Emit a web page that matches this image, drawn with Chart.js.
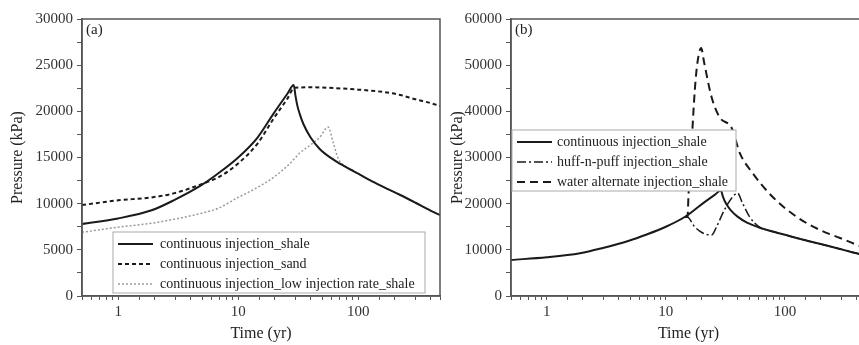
<!DOCTYPE html>
<html>
<head>
<meta charset="utf-8">
<script src="https://cdn.jsdelivr.net/npm/chart.js@4/dist/chart.umd.min.js"></script>
<style>
  html, body { margin: 0; padding: 0; background: #fff; overflow: hidden; width: 859px; height: 345px; }
  canvas { position: absolute; top: 0; }
  #chartA { left: 0; }
  #chartB { left: 440px; }
</style>
</head>
<body>
<canvas id="chartA" width="445" height="345"></canvas>
<canvas id="chartB" width="440" height="345"></canvas>
<script>
// time (yr) and pressure (kPa)
const timeShale = [0.5, 1, 1.9, 2.9, 4.9, 6.8, 10, 14.5, 19.7, 25.7, 29, 30, 31, 32.6, 35, 40, 48, 60, 71, 86, 100, 125, 160, 224, 300, 400, 480];
const pressureShale = [7800, 8400, 9280, 10360, 11980, 13270, 15000, 17160, 19750, 21900, 22850, 21700, 20700, 19700, 18600, 17200, 15900, 14900, 14300, 13700, 13250, 12550, 11850, 10940, 10100, 9250, 8770];

const timeSand = [0.5, 1, 1.9, 2.9, 4.9, 6.8, 10, 14.5, 19.7, 25.7, 29.4, 40, 100, 160, 224, 300, 400, 480];
const pressureSand = [9850, 10360, 10680, 11115, 12086, 12840, 14350, 16510, 19200, 21370, 22550, 22600, 22350, 22100, 21770, 21300, 20900, 20580];

const timeLowRate = [0.5, 1, 1.9, 2.9, 4.9, 6.8, 10, 14.5, 19.7, 27, 32.6, 40, 48, 56, 62, 68, 78, 90, 100, 125, 160, 224, 300, 400, 480];
const pressureLowRate = [6900, 7450, 7880, 8300, 8950, 9500, 10680, 11760, 12840, 14350, 15490, 16350, 17220, 18300, 16600, 14900, 14050, 13580, 13250, 12550, 11850, 10940, 10100, 9250, 8770];

const timeHuff = [14.5, 15.2, 17.5, 20.4, 24.2, 26.6, 31, 36.3, 40, 44, 50.6, 61.6, 71, 86, 100, 125, 160, 224, 300, 400, 480];
const pressureHuff = [17160, 17100, 14950, 13650, 13200, 14950, 18630, 21440, 22300, 20140, 17110, 14850, 14300, 13700, 13250, 12550, 11850, 10940, 10100, 9250, 8770];

const timeWater = [14.5, 15.2, 15.5, 16.2, 16.7, 17.5, 18.4, 19.8, 21, 24.2, 28.2, 35.7, 41.8, 53.5, 79, 126, 197, 291, 405, 480];
const pressureWater = [17160, 17100, 22000, 30000, 36000, 44600, 50500, 53700, 50470, 43100, 38770, 36390, 30970, 26640, 21440, 17110, 14300, 12560, 11050, 10400];

const xTickLabels = [1, 10, 100];

const serif = "'Liberation Serif', 'Times New Roman', serif";

function points(xs, ys) {
    return xs.map((x, i) => ({ x: x, y: ys[i] }));
}

// box around the plot, panel letter and a legend drawn inside the plot
const framePlugin = {
    id: "frame",
    afterDraw(chart, args, opts) {
        const ctx = chart.ctx;
        const a = chart.chartArea;
        ctx.save();
        ctx.strokeStyle = "#555";
        ctx.lineWidth = 1.5;
        ctx.strokeRect(a.left, a.top, a.right - a.left, a.bottom - a.top);

        ctx.fillStyle = "#222";
        ctx.font = "15px " + serif;
        ctx.textBaseline = "middle";
        ctx.fillText(opts.letter, a.left + 4, a.top + 11);

        const bx = a.left + opts.box[0];
        const by = a.top + opts.box[1];
        ctx.fillStyle = "#fff";
        ctx.fillRect(bx, by, opts.box[2], 61);
        ctx.strokeStyle = "#aaa";
        ctx.lineWidth = 1;
        ctx.strokeRect(bx, by, opts.box[2], 61);

        ctx.font = "14px " + serif;
        chart.data.datasets.forEach((ds, i) => {
            const y = by + 12 + i * 20;
            ctx.strokeStyle = ds.borderColor;
            ctx.lineWidth = ds.borderWidth;
            ctx.setLineDash(ds.borderDash || []);
            ctx.beginPath();
            ctx.moveTo(bx + 5, y);
            ctx.lineTo(bx + 40, y);
            ctx.stroke();
            ctx.setLineDash([]);
            ctx.fillStyle = "#222";
            ctx.fillText(ds.label, bx + opts.textX, y);
        });
        ctx.restore();
    }
};

function makePanel(id, datasets, yMax, yStep, labelEvery, yAxisWidth, rightPad, letter, box, textX) {
    new Chart(document.getElementById(id), {
        type: "line",
        data: { datasets: datasets },
        options: {
            responsive: false,
            animation: false,
            devicePixelRatio: 1,
            layout: { autoPadding: false, padding: { top: 19, right: rightPad, left: 0, bottom: 0 } },
            elements: {
                point: { radius: 0 },
                line: { cubicInterpolationMode: "monotone", fill: false }
            },
            plugins: {
                legend: { display: false },
                tooltip: { enabled: false },
                frame: { letter: letter, box: box, textX: textX }
            },
            scales: {
                x: {
                    type: "logarithmic",
                    min: 0.5,
                    max: 480,
                    afterFit: s => { s.height = 49; },
                    grid: { drawOnChartArea: false, tickLength: 4, color: "#555", tickWidth: 1 },
                    border: { color: "#555", width: 1.5 },
                    ticks: {
                        autoSkip: false,
                        maxRotation: 0,
                        padding: 3,
                        color: "#333",
                        font: { family: serif, size: 15 },
                        callback: v => xTickLabels.includes(v) ? String(v) : ""
                    },
                    title: {
                        display: true,
                        text: "Time (yr)",
                        color: "#222",
                        padding: { top: 0, bottom: 2 },
                        font: { family: serif, size: 16 }
                    }
                },
                y: {
                    min: 0,
                    max: yMax,
                    afterFit: s => { s.width = yAxisWidth; },
                    grid: { drawOnChartArea: false, tickLength: 5, color: "#555" },
                    border: { color: "#555", width: 1.5 },
                    ticks: {
                        stepSize: yStep,
                        padding: 4,
                        color: "#333",
                        font: { family: serif, size: 15 },
                        callback: v => v % labelEvery === 0 ? String(v) : ""
                    },
                    title: {
                        display: true,
                        text: "Pressure (kPa)",
                        color: "#222",
                        padding: { top: 8, bottom: 0 },
                        font: { family: serif, size: 16 }
                    }
                }
            }
        },
        plugins: [framePlugin]
    });
}

makePanel("chartA", [
    {
        label: "continuous injection_shale",
        data: points(timeShale, pressureShale),
        borderColor: "#1a1a1a",
        borderWidth: 2
    },
    {
        label: "continuous injection_sand",
        data: points(timeSand, pressureSand),
        borderColor: "#1a1a1a",
        borderWidth: 2,
        borderDash: [4, 3]
    },
    {
        label: "continuous injection_low injection rate_shale",
        data: points(timeLowRate, pressureLowRate),
        borderColor: "#9a9a9a",
        borderWidth: 1.5,
        borderDash: [2, 2]
    }
], 30000, 2500, 5000, 82, 5, "(a)", [31, 213, 312], 47);

makePanel("chartB", [
    {
        label: "continuous injection_shale",
        data: points(timeShale, pressureShale),
        borderColor: "#1a1a1a",
        borderWidth: 2
    },
    {
        label: "huff-n-puff injection_shale",
        data: points(timeHuff, pressureHuff),
        borderColor: "#1a1a1a",
        borderWidth: 1.5,
        borderDash: [9, 3, 2, 3]
    },
    {
        label: "water alternate injection_shale",
        data: points(timeWater, pressureWater),
        borderColor: "#1a1a1a",
        borderWidth: 2,
        borderDash: [8, 5]
    }
], 60000, 5000, 10000, 71, 14, "(b)", [1, 111, 224], 45);
</script>
</body>
</html>
